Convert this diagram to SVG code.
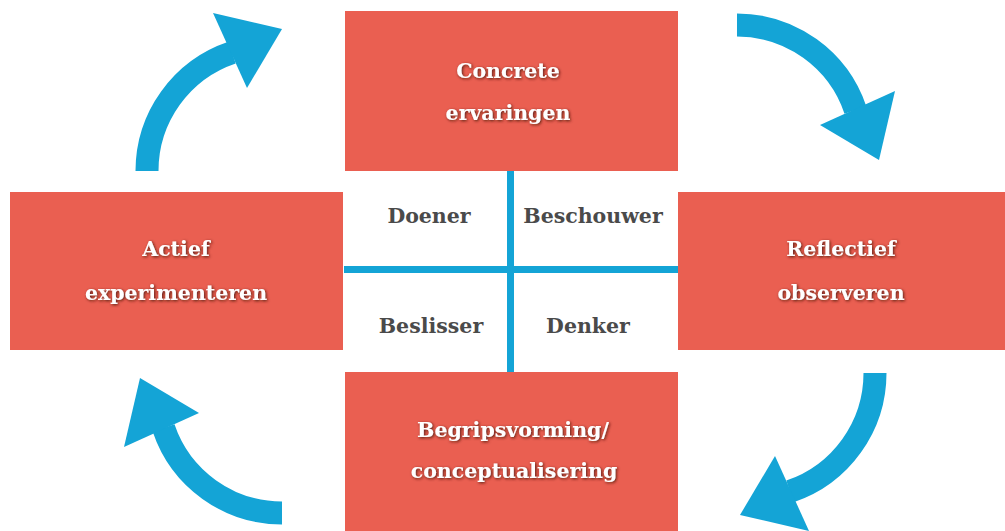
<svg xmlns="http://www.w3.org/2000/svg" width="1005" height="531" viewBox="0 0 1005 531">
<defs>
<style>
.box{fill:#ea5f51}
.lbl{font-family:"DejaVu Serif","Liberation Serif",serif;font-weight:bold;font-size:20.5px;fill:#ffffff;text-anchor:middle;filter:url(#sh)}
.ql{font-family:"DejaVu Serif","Liberation Serif",serif;font-weight:bold;font-size:20.5px;fill:#4a4a4a;text-anchor:middle}
.cross{stroke:#14a4d6;stroke-width:7;fill:none}
.shaft{stroke:#14a4d6;stroke-width:23;fill:none}
.head{fill:#14a4d6}
</style>
<filter id="sh" x="-20%" y="-50%" width="140%" height="200%">
<feDropShadow dx="1" dy="1" stdDeviation="1.6" flood-color="#4a140f" flood-opacity="0.95"/>
</filter>
<g id="arrow">
<path class="shaft" d="M -125 0 A 125 125 0 0 1 -40 -118.4"/>
<polygon class="head" points="-59,-158 10,-142 -25,-83"/>
</g>
</defs>
<rect width="1005" height="531" fill="#ffffff"/>
<g id="node-concrete">
<rect class="box" x="345" y="11" width="333" height="160"/>
<text class="lbl" x="508" y="78">Concrete</text>
<text class="lbl" x="508" y="120">ervaringen</text>
</g>
<g id="node-reflectief">
<rect class="box" x="678" y="192" width="327" height="158"/>
<text class="lbl" x="841" y="256">Reflectief</text>
<text class="lbl" x="841" y="300">observeren</text>
</g>
<g id="node-begrip">
<rect class="box" x="345" y="372" width="333" height="159"/>
<text class="lbl" x="513" y="437">Begripsvorming/</text>
<text class="lbl" x="514" y="478">conceptualisering</text>
</g>
<g id="node-actief">
<rect class="box" x="10" y="192" width="333" height="158"/>
<text class="lbl" x="176" y="256">Actief</text>
<text class="lbl" x="176" y="300">experimenteren</text>
</g>
<g id="quadrants">
<line class="cross" x1="510.5" y1="171" x2="510.5" y2="372"/>
<line class="cross" x1="344" y1="269.5" x2="678" y2="269.5"/>
<text class="ql" x="429" y="223">Doener</text>
<text class="ql" x="593" y="223">Beschouwer</text>
<text class="ql" x="431" y="333">Beslisser</text>
<text class="ql" x="588" y="333">Denker</text>
</g>
<g id="connectors">
<use href="#arrow" transform="translate(272,171)"/>
<use href="#arrow" transform="translate(737,150) rotate(90)"/>
<use href="#arrow" transform="translate(750,373) rotate(180)"/>
<use href="#arrow" transform="translate(282,388) rotate(270)"/>
</g>
</svg>
